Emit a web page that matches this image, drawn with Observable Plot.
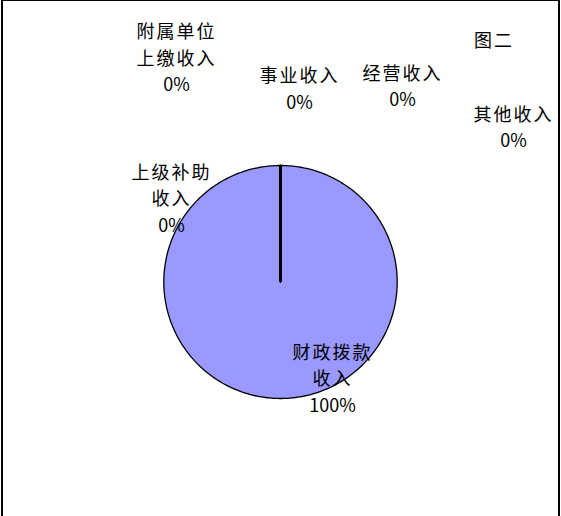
<!DOCTYPE html>
<html><head><meta charset="utf-8">
<script src="https://cdn.jsdelivr.net/npm/d3@7"></script>
<script src="https://cdn.jsdelivr.net/npm/@observablehq/plot@0.6"></script>
<style>
body{margin:0;background:#fff;overflow:hidden}
#wrap{position:relative;width:561px;height:516px;overflow:hidden}
#border{position:absolute;left:1px;top:0;width:559px;height:540px;border-style:solid;border-color:#000;border-width:1px 2px 0 2px;box-sizing:border-box;pointer-events:none}
</style></head><body><div id="wrap"><div id="chart"></div><div id="border"></div></div>
<script>
const title = "图二";
const categories = ["财政拨款收入", "上级补助收入", "附属单位上缴收入", "事业收入", "经营收入", "其他收入"];
const labelNames = ["财政拨款\n收入", "上级补助\n收入", "附属单位\n上缴收入", "事业收入", "经营收入", "其他收入"];
const values = [100, 0, 0, 0, 0, 0];

// label layout (unit-circle coordinates of label block centres)
const labelLayout = {
  "财政拨款收入": [0.446, -0.814],
  "上级补助收入": [-0.934, 0.733],
  "附属单位上缴收入": [-0.891, 1.937],
  "事业收入": [0.163, 1.675],
  "经营收入": [1.046, 1.697],
  "其他收入": [1.997, 1.341]
};
const titleLayout = [1.83, 2.069];

const total = d3.sum(values);
const arcs = d3.pie().sort(null).value(d => d)(values);
const polys = [];
arcs.forEach((a, i) => {
  const cat = categories[i];
  polys.push({cat, x: 0, y: 0});
  const n = Math.max(1, Math.ceil((a.endAngle - a.startAngle) / (Math.PI / 180)));
  for (let k = 0; k <= n; k++) {
    const t = a.startAngle + (a.endAngle - a.startAngle) * k / n;
    polys.push({cat, x: Math.sin(t), y: Math.cos(t)});
  }
  polys.push({cat, x: 0, y: 0});
});
const radii = arcs.map((a, i) => ({cat: categories[i], x2: Math.sin(a.startAngle), y2: Math.cos(a.startAngle)}));
const labels = categories.map((c, i) => ({
  text: labelNames[i] + "\n" + d3.format(".0%")(values[i] / total),
  x: labelLayout[c][0], y: labelLayout[c][1]
}));

const chart = Plot.plot({
  width: 561, height: 516,
  style: {fontFamily: "'Noto Sans CJK SC', sans-serif", background: "transparent", overflow: "visible"},
  x: {domain: [-1, 1], range: [163.3, 396.7], axis: null},
  y: {domain: [-1, 1], range: [398, 165], axis: null},
  marks: [
    Plot.line(polys, {x: "x", y: "y", z: "cat", fill: "#9999FF", stroke: "#000", strokeWidth: 1.3, curve: "linear"}),
    Plot.link(radii, {x1: () => 0, y1: () => 0, x2: "x2", y2: "y2", stroke: "#000", strokeWidth: 2}),
    Plot.text(labels, {x: "x", y: "y", text: "text", fontSize: 18, lineHeight: 1.47, lineAnchor: "middle", fill: "#000"}),
    Plot.text([title], {x: () => titleLayout[0], y: () => titleLayout[1], text: d => d, fontSize: 18, fill: "#000"})
  ]
});
// widen CJK lines slightly to match the reference's character pitch
d3.select(chart).selectAll("text, tspan")
  .filter(function () { return this.childNodes.length === 1 && this.firstChild.nodeType === 3 && /[\u4e00-\u9fff]/.test(this.textContent); })
  .attr("letter-spacing", 2);
document.getElementById("chart").appendChild(chart);
</script>
</body></html>
